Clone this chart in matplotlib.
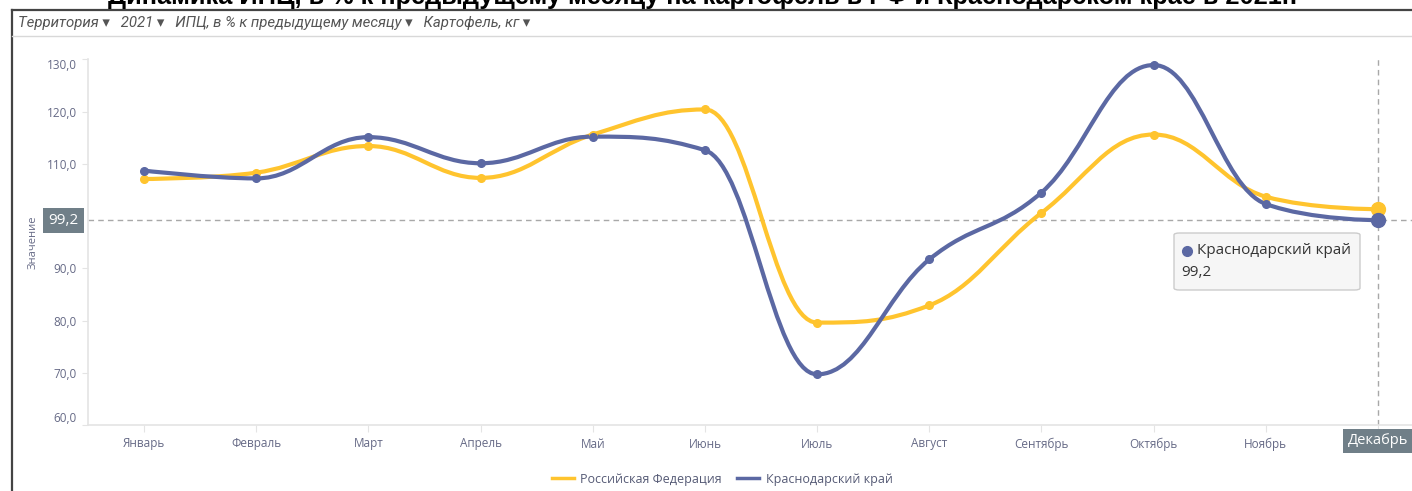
import matplotlib
matplotlib.use("Agg")
import matplotlib.pyplot as plt
import matplotlib.transforms as mtransforms
from matplotlib.path import Path
from matplotlib.patches import PathPatch, FancyBboxPatch
from matplotlib.lines import Line2D

months = ["Январь", "Февраль", "Март", "Апрель", "Май", "Июнь",
          "Июль", "Август", "Сентябрь", "Октябрь", "Ноябрь", "Декабрь"]
rf_values = [107.1, 108.3, 113.4, 107.3, 115.6, 120.4,
             79.6, 82.9, 100.6, 115.6, 103.7, 101.3]
krd_values = [108.7, 107.2, 115.1, 110.1, 115.2, 112.6,
              69.7, 91.7, 104.5, 128.9, 102.3, 99.2]
series_names = ["Российская Федерация", "Краснодарский край"]
y_ticks = [60, 70, 80, 90, 110, 120, 130]

title = "Динамика ИПЦ, в % к предыдущему месяцу на картофель в РФ и Краснодарском крае в 2021г."
filters = "Территория ▾   2021 ▾   ИПЦ, в % к предыдущему месяцу ▾   Картофель, кг ▾"

YELLOW = "#FFC42E"
BLUE = "#5B68A3"
AXIS_TXT = "#666a86"
BOX = "#707f88"

W, H = 1412, 491


def spline_path(xs, ys, smoothing=1.5):
    # highcharts-style spline: cubic bezier through every point
    n = len(xs)
    lc = list(zip(xs, ys))
    rc = list(zip(xs, ys))
    d = smoothing + 1
    for i in range(1, n - 1):
        x, y = xs[i], ys[i]
        lx, ly = xs[i - 1], ys[i - 1]
        nx, ny = xs[i + 1], ys[i + 1]
        lcx = (smoothing * x + lx) / d
        lcy = (smoothing * y + ly) / d
        rcx = (smoothing * x + nx) / d
        rcy = (smoothing * y + ny) / d
        corr = ((rcy - lcy) * (rcx - x)) / (rcx - lcx) + y - rcy
        lcy += corr
        rcy += corr
        if lcy > ly and lcy > y:
            lcy = max(ly, y)
            rcy = 2 * y - lcy
        elif lcy < ly and lcy < y:
            lcy = min(ly, y)
            rcy = 2 * y - lcy
        if rcy > ny and rcy > y:
            rcy = max(ny, y)
            lcy = 2 * y - rcy
        elif rcy < ny and rcy < y:
            rcy = min(ny, y)
            lcy = 2 * y - rcy
        lc[i] = (lcx, lcy)
        rc[i] = (rcx, rcy)
    verts = [(xs[0], ys[0])]
    codes = [Path.MOVETO]
    for i in range(1, n):
        verts += [rc[i - 1], lc[i], (xs[i], ys[i])]
        codes += [Path.CURVE4] * 3
    return Path(verts, codes)


plt.rcParams['font.family'] = ['Open Sans', 'DejaVu Sans']

fig = plt.figure(figsize=(W / 100, H / 100), dpi=100)
ax = fig.add_axes([88 / W, 1 - 425 / H, 1 - 88 / W, (425 - 59.3) / H])

xs = list(range(len(months)))
for vals, color in [(rf_values, YELLOW), (krd_values, BLUE)]:
    ax.add_patch(PathPatch(spline_path(xs, vals), fc="none", ec=color, lw=3,
                           capstyle="round", joinstyle="round", zorder=3))
    ax.plot(xs[:-1], vals[:-1], "o", ms=5.5, color=color, zorder=4)
    ax.plot(xs[-1], vals[-1], "o", ms=10, color=color, zorder=5)

ax.set_xlim(-0.5, (W - 144) / 112.18)
ax.set_ylim(60, 130)

# crosshairs on hovered point
ax.axhline(krd_values[-1], color="#a8a8a8", lw=1, ls=(0, (4, 3)), zorder=2)
ax.axvline(11, color="#a8a8a8", lw=1, ls=(0, (4, 3)), zorder=2)

for s in ["top", "right"]:
    ax.spines[s].set_visible(False)
for s in ["left", "bottom"]:
    ax.spines[s].set_color("#e4e4e4")
    ax.spines[s].set_linewidth(1.2)

ax.set_yticks(y_ticks)
ax.set_yticklabels([f"{v:.1f}".replace(".", ",") for v in y_ticks])
ax.set_xticks(xs)
ax.set_xticklabels(months[:-1] + [""])
ax.tick_params(axis="y", length=4, color="#e4e4e4", labelsize=8.5,
               labelcolor=AXIS_TXT, pad=4)
ax.tick_params(axis="x", length=5, color="#e4e4e4", labelsize=8.5,
               labelcolor=AXIS_TXT, pad=4)
ylabs = ax.get_yticklabels()
ylabs[0].set_va("bottom")
ylabs[-1].set_va("top")

# boxed labels on the axes
tr_y = mtransforms.blended_transform_factory(fig.transFigure, ax.transData)
fig.text(63.5 / W, krd_values[-1], "99,2", transform=tr_y, ha="center",
         va="center", color="white", fontsize=11,
         bbox=dict(boxstyle="square,pad=0.33", fc=BOX, ec="none"))
tr_x = mtransforms.blended_transform_factory(ax.transData, fig.transFigure)
fig.text(11, 1 - 441 / H, months[-1], transform=tr_x, ha="center",
         va="center", color="white", fontsize=10.5,
         bbox=dict(boxstyle="square,pad=0.33", fc=BOX, ec="none"))

# tooltip
fig.patches.append(FancyBboxPatch((1174 / W, 1 - 290 / H), 186 / W, 57 / H,
                                  boxstyle="round,pad=0,rounding_size=0.004",
                                  transform=fig.transFigure, fc="#f6f6f6",
                                  ec="#cccccc", lw=1))
fig.add_artist(Line2D([1187 / W], [1 - 251 / H], marker="o", ms=7,
                      color=BLUE, transform=fig.transFigure))
fig.text(1197 / W, 1 - 251 / H, series_names[1], fontsize=11,
         color="#333333", va="center")
fig.text(1181 / W, 1 - 273 / H, "99,2", fontsize=11, color="#333333",
         va="center")

fig.text(33 / W, 1 - 242 / H, "Значение", rotation=90, fontsize=8,
         color=AXIS_TXT, ha="center", va="center")

# legend
handles = [Line2D([], [], color=YELLOW, lw=2.5),
           Line2D([], [], color=BLUE, lw=2.5)]
fig.legend(handles, series_names, loc="center", ncol=2,
           bbox_to_anchor=(722 / W, 1 - 479 / H), frameon=False, fontsize=9,
           labelcolor="#555a75", handlelength=1.8, handletextpad=0.5,
           columnspacing=1.2)

# frame, header, filters
fig.add_artist(Line2D([12 / W, 1], [1 - 10 / H] * 2, color="#444444",
                      lw=1.6, transform=fig.transFigure))
fig.add_artist(Line2D([12 / W] * 2, [0, 1 - 10 / H], color="#444444",
                      lw=1.6, transform=fig.transFigure))
fig.add_artist(Line2D([12 / W, 1], [1 - 36 / H] * 2, color="#d8d8d8",
                      lw=1, transform=fig.transFigure))
fig.text(703 / W, 1 - 4 / H, title, ha="center", va="baseline",
         fontsize=18.3, fontweight="bold", color="black",
         family=["Liberation Sans", "DejaVu Sans"])
fig.text(18 / W, 1 - 23 / H, filters, ha="left", va="center", fontsize=10.8,
         style="italic", color="#555555", family=["Roboto", "DejaVu Sans"])

fig.savefig("out.png", dpi=100)
